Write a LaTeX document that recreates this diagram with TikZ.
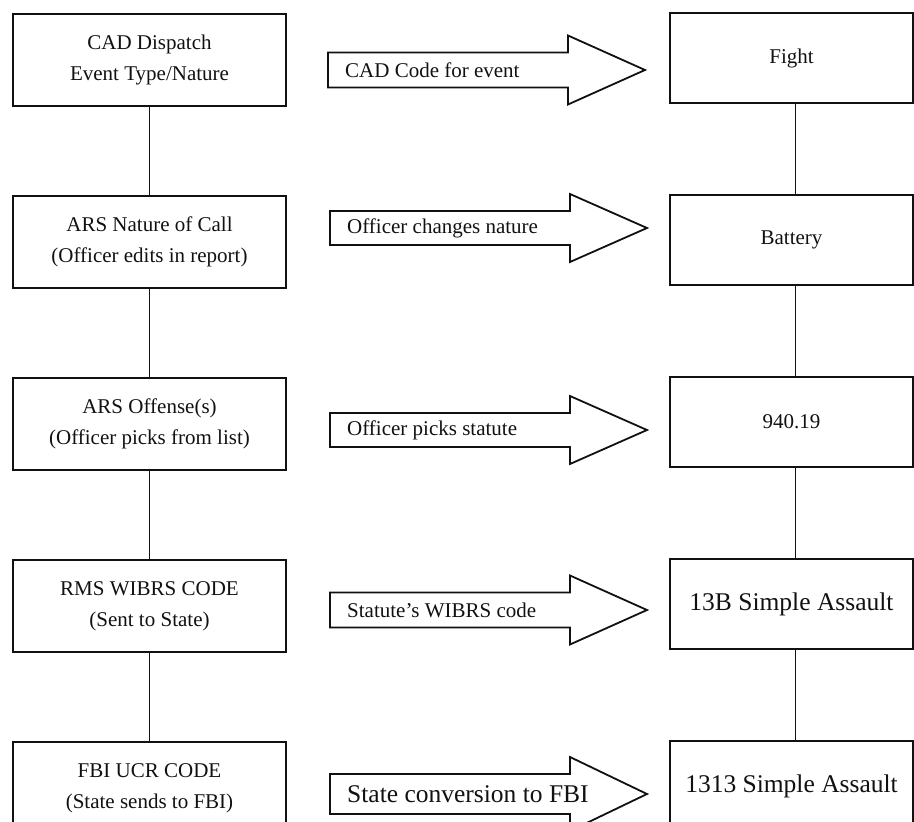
\documentclass[tikz,border=0pt]{standalone}
\usepackage{fontspec}
\setmainfont{Liberation Serif}
\usetikzlibrary{positioning}
\definecolor{ink}{HTML}{111111}
\tikzset{
 lbox/.style={draw=ink,line width=2pt,minimum width=273pt,minimum height=92pt,align=center,text=ink,font=\fontsize{21}{31}\selectfont},
 rbox/.style={draw=ink,line width=2pt,minimum width=243pt,minimum height=90pt,align=center,text=ink,font=\fontsize{21}{31}\selectfont},
 big/.style={font=\fontsize{25.5}{30}\selectfont},
 link/.style={draw=ink,line width=1.8pt},
 tag/.style={anchor=west,inner sep=0pt,text=ink,font=\fontsize{21}{25}\selectfont},
 outline/.style={draw=ink,line width=1.8pt,line join=miter}
}

\begin{document}
\begin{tikzpicture}[x=1pt,y=1pt]
  \useasboundingbox (0,0) rectangle (914,-822);

  % left column
  \node[lbox] (cad) at (149.5,-60) {CAD Dispatch\\Event Type/Nature};
  \node[lbox,below=88pt of cad] (ars) {ARS Nature of Call\\(Officer edits in report)};
  \node[lbox,below=88pt of ars] (offense) {ARS Offense(s)\\(Officer picks from list)};
  \node[lbox,below=88pt of offense] (rms) {RMS WIBRS CODE\\(Sent to State)};
  \node[lbox,below=88pt of rms] (ucr) {FBI UCR CODE\\(State sends to FBI)};

  % right column
  \node[rbox] (fight) at (791.5,-58) {Fight};
  \node[rbox,below=90pt of fight] (battery) {Battery};
  \node[rbox,below=90pt of battery] (statute) {940.19};
  \node[rbox,big,below=90pt of statute] (simple) {13B Simple Assault};
  \node[rbox,big,below=90pt of simple] (ucrcode) {1313 Simple Assault};

  \draw[link] (cad) -- (ars);
  \draw[link] (ars) -- (offense);
  \draw[link] (offense) -- (rms);
  \draw[link] (rms) -- (ucr);
  \draw[link] ([xshift=4pt]fight.south) -- ([xshift=4pt]battery.north);
  \draw[link] ([xshift=4pt]battery.south) -- ([xshift=4pt]statute.north);
  \draw[link] ([xshift=4pt]statute.south) -- ([xshift=4pt]simple.north);
  \draw[link] ([xshift=4pt]simple.south) -- ([xshift=4pt]ucrcode.north);

  % block arrows
  \node[tag] (codearr) at (345,-70) {CAD Code for event};
  \node[tag] (natarr) at (347,-228) {Officer changes nature};
  \node[tag] (statarr) at (347,-430) {Officer picks statute};
  \node[tag] (wibrsarr) at (347,-610) {Statute’s WIBRS code};
  \node[tag,big] (fbiarr) at (347,-794) {State conversion to FBI};

  \foreach \a/\h in {codearr/17.5,natarr/17,statarr/17,wibrsarr/17.5,fbiarr/20}{
    \draw[outline] ([xshift=-17pt,yshift=\h pt]\a.west) -- ++(240,0) -- ++(0,17)
      -- ++(77,{-17-\h}) -- ++(-77,{-17-\h}) -- ++(0,17) -- ++(-240,0) -- cycle;
  }
\end{tikzpicture}
\end{document}
